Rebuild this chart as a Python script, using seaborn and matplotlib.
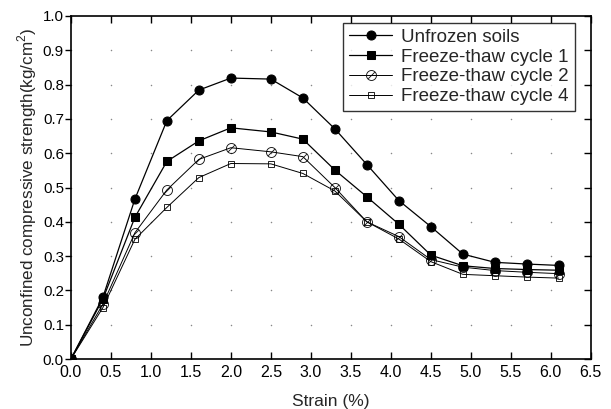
import numpy as np
import pandas as pd
import matplotlib
matplotlib.use("Agg")
import matplotlib.pyplot as plt
import seaborn as sns

strain = [0.0, 0.4, 0.8, 1.2, 1.6, 2.0, 2.5, 2.9, 3.3, 3.7, 4.1, 4.5, 4.9, 5.3, 5.7, 6.1]
unfrozen = [0.0, 0.18, 0.466, 0.695, 0.784, 0.819, 0.816, 0.761, 0.671, 0.567, 0.462, 0.386, 0.306, 0.282, 0.277, 0.273]
cycle1 = [0.0, 0.175, 0.413, 0.576, 0.636, 0.674, 0.662, 0.641, 0.551, 0.473, 0.393, 0.303, 0.272, 0.264, 0.261, 0.259]
cycle2 = [0.0, 0.16, 0.368, 0.493, 0.582, 0.616, 0.604, 0.590, 0.500, 0.400, 0.357, 0.290, 0.268, 0.258, 0.253, 0.249]
cycle4 = [0.0, 0.15, 0.349, 0.442, 0.529, 0.570, 0.569, 0.541, 0.490, 0.400, 0.350, 0.284, 0.247, 0.243, 0.239, 0.236]
labels = ["Unfrozen soils", "Freeze-thaw cycle 1", "Freeze-thaw cycle 2", "Freeze-thaw cycle 4"]
xticks = [0.0, 0.5, 1.0, 1.5, 2.0, 2.5, 3.0, 3.5, 4.0, 4.5, 5.0, 5.5, 6.0, 6.5]
yticks = [0.0, 0.1, 0.2, 0.3, 0.4, 0.5, 0.6, 0.7, 0.8, 0.9, 1.0]

sns.set_style("ticks")
plt.rcParams['font.family'] = ['Liberation Sans', 'DejaVu Sans']
plt.rcParams['mathtext.fontset'] = 'custom'
plt.rcParams['mathtext.rm'] = 'Liberation Sans'

fig = plt.figure(figsize=(6.11, 4.09), dpi=100)
ax = fig.add_axes([0.116, 0.122, 0.851, 0.839])

styles = [
    dict(marker='o', markersize=6.5, markerfacecolor='black', markeredgecolor='black', lw=0.9),
    dict(marker='s', markersize=6, markerfacecolor='black', markeredgecolor='black', lw=0.9),
    dict(marker=r'$\oslash$', markersize=7.5, markerfacecolor='none', markeredgecolor='black', markeredgewidth=0.3, lw=0.7),
    dict(marker='s', markersize=5, markerfacecolor='none', markeredgecolor='black', markeredgewidth=0.6, lw=0.7),
]
for ys, lab, st in zip([unfrozen, cycle1, cycle2, cycle4], labels, styles):
    df = pd.DataFrame({"x": strain, "y": ys})
    sns.lineplot(data=df, x="x", y="y", ax=ax, color='black', label=lab, **st)

# dotted intersection grid
gx, gy = np.meshgrid(xticks, yticks)
ax.scatter(gx.ravel(), gy.ravel(), s=1.2, color='#888888', zorder=0, linewidths=0)

ax.set_xlim(0, 6.5)
ax.set_ylim(0, 1.0)
ax.set_xticks(xticks)
ax.set_yticks(yticks)
ax.set_xticklabels([f"{v:.1f}" for v in xticks])
ax.set_yticklabels([f"{v:.1f}" for v in yticks])
ax.tick_params(axis='x', direction='in', top=True, length=5, width=1, labelsize=11.5, colors='black', pad=4)
ax.tick_params(axis='y', direction='out', left=True, right=True, length=4, width=1, labelsize=10.8, colors='black', pad=1)
for t in ax.yaxis.get_major_ticks():
    t.tick2line.set_marker(matplotlib.lines.TICKLEFT)
    t.tick2line.set_markersize(5)
ax.tick_params(labeltop=False, labelright=False)
for sp in ax.spines.values():
    sp.set_visible(True)
    sp.set_color('black')
    sp.set_linewidth(1.2)

ax.set_xlabel("Strain (%)", fontsize=12.5, labelpad=10)
ax.set_ylabel(r"Unconfined compressive strength(kg/cm$^2$)", fontsize=12.3, labelpad=3)

leg = ax.legend(loc='upper right', bbox_to_anchor=(0.969, 0.98), frameon=True, fancybox=False,
                edgecolor='black', fontsize=13.5, handlelength=2.3, borderpad=0.3,
                labelspacing=0.15, handletextpad=0.5, borderaxespad=0.0)
leg.get_frame().set_linewidth(1.0)

fig.savefig("out.png", dpi=100)
